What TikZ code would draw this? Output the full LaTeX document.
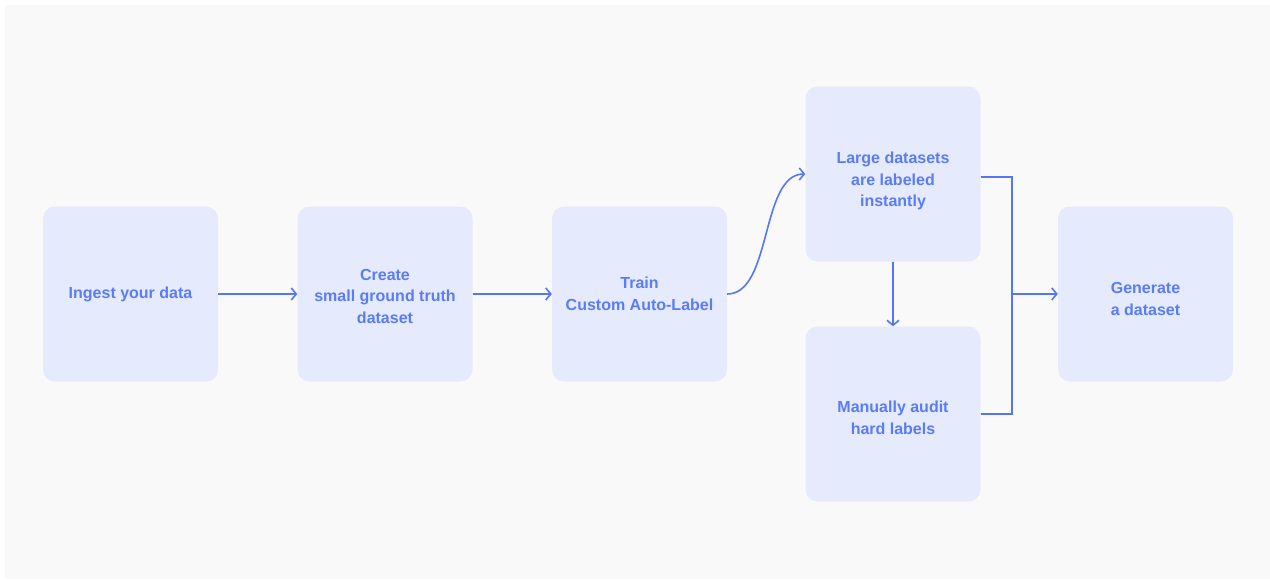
\documentclass[tikz,border=0pt]{standalone}
\usepackage{fontspec}
\setmainfont{Liberation Sans}
\usetikzlibrary{arrows.meta}
\definecolor{pagebg}{HTML}{F9F9F9}
\definecolor{boxfill}{HTML}{E5EAFD}
\definecolor{ink}{HTML}{5A7CF6}
\definecolor{wire}{HTML}{5577F5}
\begin{document}
\begin{tikzpicture}[x=1pt,y=-1pt,
  stepbox/.style={rectangle, rounded corners=12pt, fill=boxfill,
    minimum width=175pt, minimum height=175pt, inner sep=0pt},
  steptext/.style={inner sep=0pt, text=ink, align=center,
    font=\bfseries\fontsize{16}{21.5}\selectfont},
  flow/.style={draw=wire, line width=1.6pt,
    -{Straight Barb[length=5pt,width=12pt,line width=1.6pt]}},
  wireline/.style={draw=wire, line width=1.6pt}]
  % canvas
  \useasboundingbox (0,0) rectangle (1270,579);
  \fill[white] (0,0) rectangle (1270,579);
  \fill[pagebg] (5,5) rectangle (1270,579);

  % process steps
  \node[stepbox] (ingest)   at (130.5,294) {};
  \node[stepbox] (truth)    at (385,294)   {};
  \node[stepbox] (train)    at (639.5,294) {};
  \node[stepbox] (large)    at (893,174)   {};
  \node[stepbox] (audit)    at (893,414)   {};
  \node[stepbox] (generate) at (1145.5,294) {};

  % step captions
  \node[steptext] (ingest-t)   at ([yshift=0pt]ingest.center)   {Ingest your data};
  \node[steptext] (truth-t)    at ([yshift=-2pt]truth.center)   {Create\\small ground truth\\dataset};
  \node[steptext] (train-t)    at ([yshift=0pt]train.center)    {Train\\Custom Auto-Label};
  \node[steptext] (large-t)    at ([yshift=-7pt]large.center)   {Large datasets\\are labeled\\instantly};
  \node[steptext] (audit-t)    at ([yshift=-4pt]audit.center)   {Manually audit\\hard labels};
  \node[steptext] (generate-t) at ([yshift=-5pt]generate.center) {Generate\\a dataset};

  % connectors
  \draw[flow] (ingest.east) -- (truth.west);
  \draw[flow] (truth.east) -- (train.west);
  \draw[flow] (train.east) .. controls ++(45,0) and ++(-45,0) .. (large.west);
  \draw[flow] (large.south) -- (audit.north);

  % merge bracket into the final step
  \coordinate (jtop) at (1012,177);
  \coordinate (jbot) at (1012,414);
  \coordinate (jmid) at (1012,294);
  \draw[wireline] (large.east |- jtop) -- (jtop) -- (jbot) -- (audit.east |- jbot);
  \draw[flow] (jmid) -- (generate.west);
\end{tikzpicture}
\end{document}
